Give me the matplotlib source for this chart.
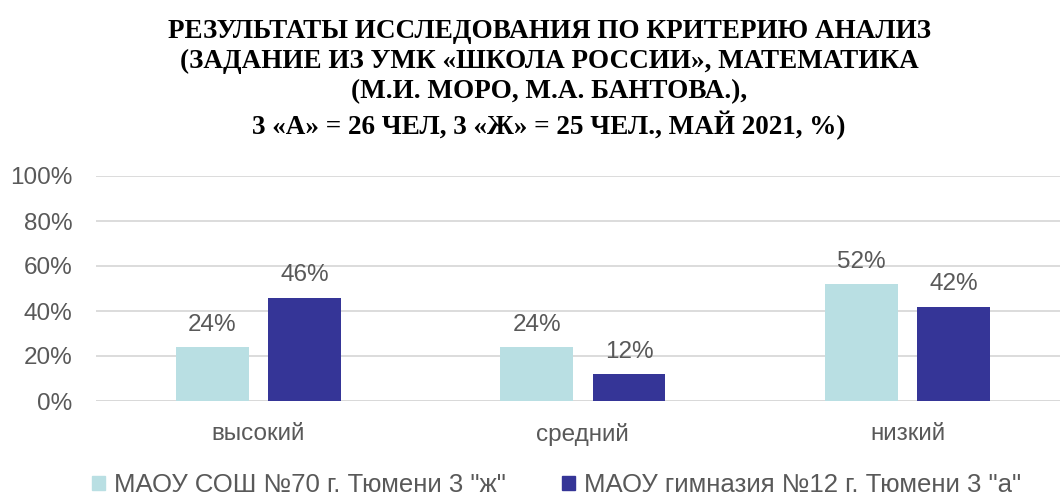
import matplotlib
matplotlib.use("Agg")
import matplotlib.pyplot as plt
from matplotlib.patches import Patch
import numpy as np

categories = ["высокий", "средний", "низкий"]
series_names = ['МАОУ СОШ №70 г. Тюмени 3 "ж"', 'МАОУ гимназия №12 г. Тюмени 3 "а"']
values_zh = [24, 24, 52]
values_a = [46, 12, 42]
yticks = [0, 20, 40, 60, 80, 100]

title = ("РЕЗУЛЬТАТЫ ИССЛЕДОВАНИЯ ПО КРИТЕРИЮ АНАЛИЗ\n"
         "(ЗАДАНИЕ ИЗ УМК «ШКОЛА РОССИИ», МАТЕМАТИКА\n"
         "(М.И. МОРО, М.А. БАНТОВА.),\n"
         "3 «А» = 26 ЧЕЛ, 3 «Ж» = 25 ЧЕЛ., МАЙ 2021, %)")

c_light = "#b9dfe3"
c_dark = "#353597"
c_text = "#595959"

plt.rcParams['font.family'] = ['Liberation Sans', 'DejaVu Sans']

fig = plt.figure(figsize=(10.6, 4.99), dpi=100)
ax = fig.add_axes([96/1060, 1 - 401/499, 1 - 96/1060, (401 - 176)/499])

x = np.arange(len(categories))
w = 0.224
off = 0.142
b1 = ax.bar(x - off, values_zh, w, color=c_light, zorder=3)
b2 = ax.bar(x + off, values_a, w, color=c_dark, zorder=3)

for bars, vals in ((b1, values_zh), (b2, values_a)):
    for r, v in zip(bars, vals):
        ax.annotate(f"{v}%", (r.get_x() + r.get_width()/2, v), xytext=(0, 8),
                    textcoords="offset points", ha="center", va="bottom",
                    fontsize=17.5, color=c_text)

ax.set_ylim(0, 100)
ax.set_xlim(-0.5, 2.47)
ax.set_yticks(yticks)
ax.set_yticklabels([f"{t}%" for t in yticks])
ax.set_xticks(x)
ax.set_xticklabels(categories)
ax.tick_params(axis='both', length=0, labelsize=17.5, labelcolor=c_text)
ax.tick_params(axis='y', pad=17)
ax.tick_params(axis='x', pad=16)
ax.yaxis.grid(True, color="#d9d9d9", linewidth=1.3, zorder=0)
ax.set_axisbelow(True)
for s in ax.spines.values():
    s.set_visible(False)
ax.axhline(0, color="#d9d9d9", linewidth=1.3, zorder=1)

fig.text(0.518, 0.962, title, ha="center", va="top", fontsize=19.5,
         fontweight="bold", family="Liberation Serif", linespacing=1.27,
         color="black")

handles = [Patch(color=c_light), Patch(color=c_dark)]
fig.legend(handles, series_names, loc="center", bbox_to_anchor=(0.525, 0.028),
           ncol=2, frameon=False, fontsize=18.5, labelcolor=c_text,
           handlelength=0.5, handleheight=0.5, handletextpad=0.35,
           columnspacing=2.2)

fig.savefig("out.png", dpi=100)
